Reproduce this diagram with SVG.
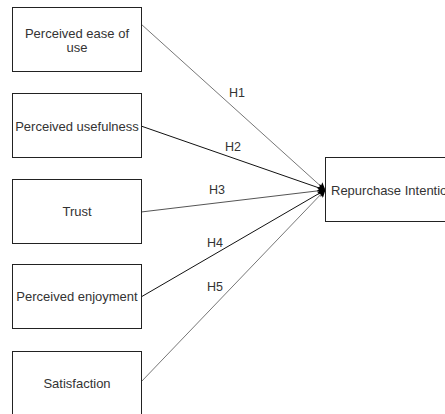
<svg xmlns="http://www.w3.org/2000/svg" width="445" height="414" viewBox="0 0 445 414">
<style>
.box{fill:#fff;stroke:#222;stroke-width:1}
.t{font-family:"Liberation Sans",Arial,sans-serif;font-size:13px;fill:#333}
.lbl{font-family:"Liberation Sans",Arial,sans-serif;font-size:12.5px;fill:#333;text-anchor:middle}
.c{fill:none;stroke-width:1}
</style>
<defs>
<marker id="ah" viewBox="0 0 10 10" refX="9" refY="5" markerWidth="8" markerHeight="8" markerUnits="userSpaceOnUse" orient="auto">
<path d="M0,0 L10,5 L0,10 L2,5 Z" fill="#000"/>
</marker>
</defs>
<rect width="445" height="414" fill="#fff"/>
<g id="connectors">
<line class="c" x1="141" y1="24" x2="325" y2="190" stroke="#777" marker-end="url(#ah)"/>
<line class="c" x1="141" y1="126" x2="325" y2="190" stroke="#111" marker-end="url(#ah)"/>
<line class="c" x1="141" y1="212" x2="325" y2="190" stroke="#555" marker-end="url(#ah)"/>
<line class="c" x1="141" y1="297" x2="325" y2="190" stroke="#111" marker-end="url(#ah)"/>
<line class="c" x1="141" y1="382" x2="325" y2="190" stroke="#777" marker-end="url(#ah)"/>
<text class="lbl" x="237" y="97">H1</text>
<text class="lbl" x="233" y="151">H2</text>
<text class="lbl" x="217" y="194">H3</text>
<text class="lbl" x="215" y="247">H4</text>
<text class="lbl" x="215" y="291">H5</text>
</g>
<g id="n1">
<rect class="box" x="12.5" y="7.5" width="129" height="64"/>
<text class="t" x="77" y="38" text-anchor="middle">Perceived ease of</text>
<text class="t" x="77" y="52" text-anchor="middle">use</text>
</g>
<g id="n2">
<rect class="box" x="12.5" y="93.5" width="129" height="64"/>
<text class="t" x="77" y="131" text-anchor="middle">Perceived usefulness</text>
</g>
<g id="n3">
<rect class="box" x="12.5" y="179.5" width="129" height="64"/>
<text class="t" x="77" y="216" text-anchor="middle">Trust</text>
</g>
<g id="n4">
<rect class="box" x="12.5" y="264.5" width="129" height="64"/>
<text class="t" x="77" y="301" text-anchor="middle">Perceived enjoyment</text>
</g>
<g id="n5">
<rect class="box" x="12.5" y="351.5" width="129" height="64"/>
<text class="t" x="77" y="388" text-anchor="middle">Satisfaction</text>
</g>
<g id="n6">
<rect class="box" x="325.5" y="157.5" width="135" height="64"/>
<text class="t" x="331" y="195">Repurchase Intention</text>
</g>
</svg>
